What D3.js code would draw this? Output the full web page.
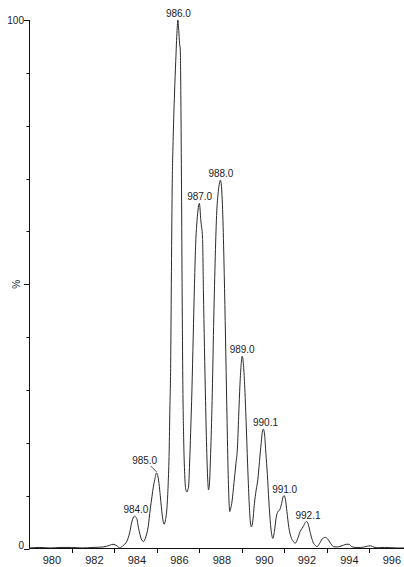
<!DOCTYPE html>
<html>
<head>
<meta charset="utf-8">
<script src="https://cdn.jsdelivr.net/npm/d3@7"></script>
<style>
  body { margin: 0; background: #fff; }
  text { font-family: "Liberation Sans", Arial, sans-serif; fill: #1c1c28; }
</style>
</head>
<body>
<div id="chart"></div>
<script>
// spectrum profile: [m/z, % of base peak]
var profile = [
  [979.02,0.1],[979.5,0.2],[980.0,0.1],[980.5,0.2],[981.0,0.2],[981.5,0.1],[982.0,0.2],[982.5,0.3],
  [982.78,0.6],[982.95,0.8],[983.13,0.5],[983.27,0.1],[983.43,0.6],[983.59,1.3],[983.73,3.0],[983.83,5.0],
  [983.95,6.1],[984.05,5.8],[984.15,3.8],[984.28,1.8],[984.38,1.3],[984.49,2.2],[984.6,4.1],[984.7,7.5],
  [984.78,9.8],[984.84,11.6],[984.91,13],[984.99,14.3],[985.05,13.8],[985.11,12.3],[985.17,10],[985.22,7.9],
  [985.29,5.5],[985.35,4.6],[985.42,5.5],[985.49,8],[985.54,12],[985.59,18.6],[985.62,26],[985.66,35],
  [985.69,50],[985.73,68],[985.78,78],[985.84,86],[985.9,92.4],[985.96,98],[986.0,100],[986.04,98],
  [986.08,95.5],[986.11,94.5],[986.14,85],[986.17,68],[986.2,48],[986.23,32],[986.27,21],[986.32,14],
  [986.38,11],[986.43,10.7],[986.47,11.2],[986.5,11.6],[986.55,16],[986.6,22],[986.66,30],[986.72,40],
  [986.78,50],[986.84,58],[986.9,62],[986.96,64.5],[987.01,65.3],[987.08,62],[987.16,58.7],[987.2,49],
  [987.25,38],[987.3,28],[987.36,18],[987.41,12.5],[987.44,11.1],[987.48,12],[987.54,18],[987.61,28],
  [987.68,42],[987.75,54],[987.82,63],[987.9,67.5],[987.96,69.2],[988.0,69.7],[988.05,68.5],[988.12,62],
  [988.18,52],[988.24,40],[988.3,27],[988.36,15],[988.41,8.5],[988.44,7.0],[988.48,7.5],[988.55,9],
  [988.64,12.5],[988.73,16],[988.8,19],[988.86,25],[988.92,31],[988.98,35],[989.02,36.4],[989.08,35],
  [989.14,31],[989.21,24],[989.28,16],[989.35,9],[989.41,5],[989.46,4.1],[989.52,5],[989.6,8.5],
  [989.68,11],[989.76,13],[989.84,16.5],[989.92,20],[989.97,22],[990.02,22.6],[990.08,21.5],[990.14,18],
  [990.21,14],[990.28,9],[990.36,4.5],[990.42,2.5],[990.47,1.9],[990.54,3.2],[990.63,6.0],[990.71,7.0],
  [990.79,7.3],[990.88,8.5],[990.95,9.8],[991.0,10],[991.06,9.3],[991.13,7],[991.22,4],[991.32,2.2],
  [991.42,1.4],[991.52,1.0],[991.63,1.8],[991.75,3.2],[991.84,3.8],[991.93,4.4],[992.01,5.0],[992.07,5.1],
  [992.14,4.5],[992.24,2.8],[992.36,1.2],[992.46,0.6],[992.54,0.35],[992.66,0.9],[992.79,1.8],[992.93,2.1],
  [993.05,1.8],[993.18,1.0],[993.33,0.35],[993.48,0.3],[993.63,0.4],[993.78,0.6],[993.93,0.8],[994.05,0.8],
  [994.18,0.35],[994.38,0.2],[994.58,0.2],[994.78,0.3],[994.93,0.45],[995.07,0.5],[995.23,0.25],[995.43,0.15],
  [995.73,0.2],[996.03,0.15],[996.33,0.1],[996.64,0.1]
];

// peak annotations
var peakMz = [984.0, 985.0, 986.0, 987.0, 988.0, 989.0, 990.1, 991.0, 992.1];
var peakHeight = [6.1, 14.3, 100, 65.3, 69.7, 36.4, 22.6, 10, 5.1];
var peakLabels = ["984.0", "985.0", "986.0", "987.0", "988.0", "989.0", "990.1", "991.0", "992.1"];

// axes
var xLabelValues = [980, 982, 984, 986, 988, 990, 992, 994, 996];
var xTickValues = [981, 983, 985, 987, 989, 991, 993, 995];
var yMinorTicks = [10, 20, 30, 40, 60, 70, 80, 90];
var yMajorTicks = [0, 50, 100];

var svgWidth = 404;
var svgHeight = 567;

var svg = d3.select("#chart")
  .append("svg")
  .attr("width", svgWidth)
  .attr("height", svgHeight);

var x = d3.scaleLinear()
  .domain([979.016, 996.64])
  .range([29.5, 404]);

var y = d3.scaleLinear()
  .domain([0, 100])
  .range([548.5, 20]);

// spectrum trace
var line = d3.line()
  .x(d => x(d[0]))
  .y(d => y(d[1]))
  .curve(d3.curveMonotoneX);

svg.append("path")
  .datum(profile)
  .attr("d", line)
  .attr("fill", "none")
  .attr("stroke", "#2a2a2a")
  .attr("stroke-width", 1);

// y axis
svg.append("line")
  .attr("x1", 29.5).attr("x2", 29.5)
  .attr("y1", y(100)).attr("y2", y(0))
  .attr("stroke", "#111");

svg.selectAll(".ymin")
  .data(yMinorTicks)
  .enter()
  .append("line")
  .attr("x1", 26.5).attr("x2", 29.5)
  .attr("y1", d => Math.round(y(d)) + 0.5)
  .attr("y2", d => Math.round(y(d)) + 0.5)
  .attr("stroke", "#111");

svg.selectAll(".ymaj")
  .data(yMajorTicks)
  .enter()
  .append("line")
  .attr("x1", 24).attr("x2", 29.5)
  .attr("y1", d => Math.round(y(d)) + 0.5)
  .attr("y2", d => Math.round(y(d)) + 0.5)
  .attr("stroke", "#111");

svg.append("text")
  .attr("x", 24)
  .attr("y", y(100) + 4)
  .attr("text-anchor", "end")
  .attr("font-size", "10px")
  .text("100");

svg.append("text")
  .attr("x", 24)
  .attr("y", y(0))
  .attr("text-anchor", "end")
  .attr("font-size", "10px")
  .text("0");

svg.append("text")
  .attr("transform", `translate(20, ${y(50)}) rotate(-90)`)
  .attr("text-anchor", "middle")
  .attr("font-size", "10px")
  .text("%");

// x axis
svg.append("line")
  .attr("x1", 29.5).attr("x2", 404)
  .attr("y1", 548.5).attr("y2", 548.5)
  .attr("stroke", "#111");

svg.selectAll(".xtick")
  .data(xTickValues)
  .enter()
  .append("line")
  .attr("x1", d => Math.round(x(d)) + 0.5)
  .attr("x2", d => Math.round(x(d)) + 0.5)
  .attr("y1", 548.5).attr("y2", 553)
  .attr("stroke", "#111");

svg.selectAll(".xlabel")
  .data(xLabelValues)
  .enter()
  .append("text")
  .attr("x", d => x(d) + 1.5)
  .attr("y", 564)
  .attr("text-anchor", "middle")
  .attr("font-size", "11px")
  .text(d => d);

// peak labels; 985.0 sits up-left with a leader line
var peaks = peakMz.map((m, i) => ({ mz: m, h: peakHeight[i], label: peakLabels[i] }));

peaks.forEach(function(p) {
  var px = x(p.mz);
  var py = y(p.h);
  if (p.label === "985.0") {
    svg.append("line")
      .attr("x1", px).attr("y1", py - 1)
      .attr("x2", px - 6).attr("y2", py - 7)
      .attr("stroke", "#2a2a2a")
      .attr("stroke-width", 0.8);
    svg.append("text")
      .attr("x", px - 12)
      .attr("y", py - 9)
      .attr("text-anchor", "middle")
      .attr("font-size", "10px")
      .text(p.label);
  } else {
    svg.append("text")
      .attr("x", px + 0.5)
      .attr("y", py - 3)
      .attr("text-anchor", "middle")
      .attr("font-size", "10px")
      .text(p.label);
  }
});
</script>
</body>
</html>
